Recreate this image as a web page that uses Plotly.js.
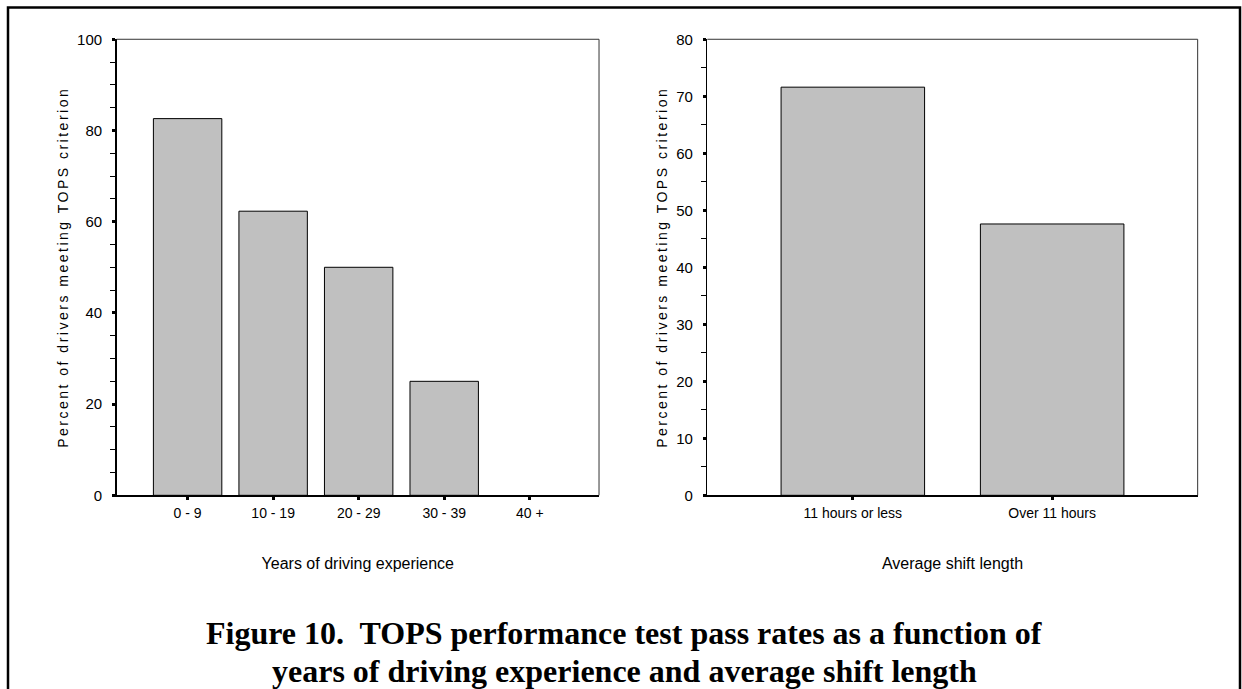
<!DOCTYPE html>
<html>
<head>
<meta charset="utf-8">
<script src="https://cdn.plot.ly/plotly-3.0.1.min.js"></script>
<style>
  html, body { margin: 0; padding: 0; background: #fff; }
  #chart { width: 1242px; height: 689px; }
  .g-ytitle text, .g-y2title text { letter-spacing: 2.5px; }
</style>
</head>
<body>
<div id="chart"></div>
<script>
// ---- data ----
const experienceCats = ["0 - 9", "10 - 19", "20 - 29", "30 - 39", "40 +"];
const experiencePct = [82.6, 62.3, 50.0, 25.0, 0];
const shiftCats = ["11 hours or less", "Over 11 hours"];
const shiftPct = [71.6, 47.6];
const yTitle = "Percent of drivers meeting TOPS criterion";
const xTitleLeft = "Years of driving experience";
const xTitleRight = "Average shift length";
const captionLine1 = "Figure 10.\u00a0 TOPS performance test pass rates as a function of";
const captionLine2 = "years of driving experience and average shift length";

const narrow = "Liberation Sans Narrow, Arial Narrow, Liberation Sans, Arial, sans-serif";
const sans = "Liberation Sans, Arial, sans-serif";
const serif = "Liberation Serif, Times New Roman, serif";

function barMarker(values) {
  return { color: "#c0c0c0",
           line: { color: "#000", width: values.map(v => (v > 0 ? 1 : 0)) } };
}

const traces = [
  { type: "bar", x: experienceCats, y: experiencePct, xaxis: "x", yaxis: "y",
    width: 0.8, marker: barMarker(experiencePct), hoverinfo: "x+y" },
  { type: "bar", x: shiftCats, y: shiftPct, xaxis: "x2", yaxis: "y2",
    width: 0.72, marker: barMarker(shiftPct), hoverinfo: "x+y" }
];

function xAxis(domain, anchor, range, title) {
  return {
    domain: domain, anchor: anchor, type: "category", range: range,
    showline: true, linecolor: "#000", linewidth: 2,
    ticks: "outside", ticklen: 3, tickwidth: 3, tickcolor: "#000",
    ticklabelstandoff: 1,
    tickfont: { family: narrow, size: 14, color: "#000" },
    showgrid: false, zeroline: false, fixedrange: true,
    title: { text: title, standoff: 38, font: { family: narrow, size: 16, color: "#000" } }
  };
}
function yAxis(domain, anchor, range, dtick, minor) {
  return {
    domain: domain, anchor: anchor, range: range, dtick: dtick, tick0: 0,
    showline: true, linecolor: "#000", linewidth: 1.5,
    ticks: "outside", ticklen: 3, tickwidth: 3, tickcolor: "#000",
    ticklabelstandoff: 7,
    minor: { dtick: minor, tick0: 0, ticks: "outside", ticklen: 5, tickwidth: 1, tickcolor: "#000", showgrid: false },
    tickfont: { family: narrow, size: 15, color: "#000" },
    showgrid: false, zeroline: false, fixedrange: true,
    title: { text: yTitle, standoff: 5, font: { family: sans, size: 14, color: "#000" } }
  };
}

const yDom = [0.2811, 0.943];
const layout = {
  width: 1242, height: 689,
  margin: { l: 0, r: 0, t: 0, b: 0 },
  paper_bgcolor: "#fff", plot_bgcolor: "#fff",
  showlegend: false, bargap: 0.2,
  xaxis: xAxis([0.0939, 0.4823], "y", [-0.83, 4.81], xTitleLeft),
  yaxis: yAxis(yDom, "x", [0, 100], 20, 5),
  xaxis2: xAxis([0.5695, 0.9643], "y2", [-0.73, 1.73], xTitleRight),
  yaxis2: yAxis(yDom, "x2", [0, 80], 10, 5),
  shapes: [
    // frame top & right of each plot
    { type: "line", xref: "x domain", yref: "y domain", x0: 0, x1: 1, y0: 1, y1: 1, line: { color: "#333", width: 1 } },
    { type: "line", xref: "x domain", yref: "y domain", x0: 1, x1: 1, y0: 0, y1: 1, line: { color: "#333", width: 1 } },
    { type: "line", xref: "x2 domain", yref: "y2 domain", x0: 0, x1: 1, y0: 1, y1: 1, line: { color: "#333", width: 1 } },
    { type: "line", xref: "x2 domain", yref: "y2 domain", x0: 1, x1: 1, y0: 0, y1: 1, line: { color: "#333", width: 1 } },
    // outer figure border (open at bottom)
    { type: "rect", xref: "paper", yref: "paper", x0: 8 / 1242, x1: 1240 / 1242, y0: -0.05, y1: 1 - 7.5 / 689,
      line: { color: "#000", width: 2.5 }, fillcolor: "rgba(0,0,0,0)" }
  ],
  annotations: [
    { xref: "paper", yref: "paper", x: 624 / 1242, y: 1 - 633 / 689, xanchor: "center", yanchor: "middle",
      showarrow: false, text: "<b>" + captionLine1 + "</b>",
      font: { family: serif, size: 32, color: "#000" } },
    { xref: "paper", yref: "paper", x: 624 / 1242, y: 1 - 671 / 689, xanchor: "center", yanchor: "middle",
      showarrow: false, text: "<b>" + captionLine2 + "</b>",
      font: { family: serif, size: 32, color: "#000" } }
  ]
};

Plotly.newPlot("chart", traces, layout, { displayModeBar: false, staticPlot: true });
</script>
</body>
</html>
